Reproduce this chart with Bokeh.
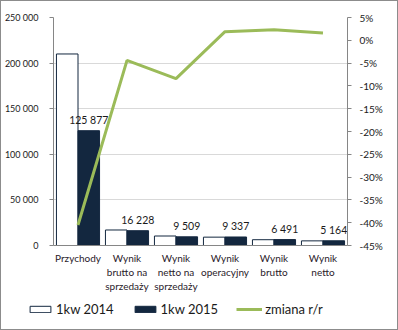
from bokeh.plotting import figure
from bokeh.layouts import column
from bokeh.models import Range1d, LinearAxis, FixedTicker, Legend, LegendItem
from bokeh.embed import file_html
from bokeh.resources import INLINE

categories = ["Przychody", "Wynik\nbrutto na\nsprzedaży", "Wynik\nnetto na\nsprzedaży",
              "Wynik\noperacyjny", "Wynik\nbrutto", "Wynik\nnetto"]
values_2014 = [210000, 17000, 10400, 9160, 6340, 5080]
values_2015 = [125877, 16228, 9509, 9337, 6491, 5164]
change_pct = [-40.5, -4.4, -8.4, 1.9, 2.3, 1.6]
series_names = ["1kw 2014", "1kw 2015", "zmiana r/r"]

FONT = "Lato"
NAVY = "#13273f"
GREEN = "#9bbb59"
AXIS = "#868686"
TXT = "#1a1a1a"

def fmt(v):
    return f"{v:,}".replace(",", " ")

n = len(categories)
centers = [i + 0.5 for i in range(n)]
x14 = [c - 0.22 for c in centers]
x15 = [c + 0.22 for c in centers]

p = figure(width=396, height=300, output_backend="svg", toolbar_location=None,
           x_range=Range1d(0, n), y_range=Range1d(0, 250000),
           min_border_left=50, min_border_right=50, min_border_top=16, min_border_bottom=56)
p.outline_line_color = None
p.background_fill_color = "white"
p.border_fill_color = "white"

p.extra_y_ranges = {"pct": Range1d(-45, 5)}

p.vbar(x=x14, top=values_2014, width=0.44, fill_color="white", line_color=NAVY, line_width=1)
p.vbar(x=x15, top=values_2015, width=0.44, fill_color=NAVY, line_color=NAVY, line_width=1)
p.line(x=centers, y=change_pct, y_range_name="pct", line_color=GREEN, line_width=3)

p.text(x=x15, y=values_2015, text=[fmt(v) for v in values_2015], text_align="center",
       text_baseline="bottom", y_offset=-5, text_font_size="10.5px", text_color=TXT,
       text_font={"value": FONT})

ly = p.yaxis[0]
lt = [0, 50000, 100000, 150000, 200000, 250000]
ly.ticker = FixedTicker(ticks=lt)
ly.major_label_overrides = {t: fmt(t) for t in lt}
ly.axis_line_color = AXIS
ly.major_tick_line_color = AXIS
ly.major_tick_in = 0
ly.major_tick_out = 4
ly.minor_tick_line_color = None
ly.major_label_text_font = FONT
ly.major_label_text_font_size = "9px"
ly.major_label_text_color = TXT
ly.major_label_standoff = 11

ry = LinearAxis(y_range_name="pct")
rt = list(range(-45, 10, 5))
ry.ticker = FixedTicker(ticks=rt)
ry.major_label_overrides = {t: f"{t}%" for t in rt}
ry.axis_line_color = AXIS
ry.major_tick_line_color = AXIS
ry.major_tick_in = 0
ry.major_tick_out = 4
ry.minor_tick_line_color = None
ry.major_label_text_font = FONT
ry.major_label_text_font_size = "10px"
ry.major_label_text_color = TXT
ry.major_label_standoff = 8
p.add_layout(ry, "right")

bx = p.xaxis[0]
bx.ticker = FixedTicker(ticks=centers)
bx.major_label_overrides = {c: lab for c, lab in zip(centers, categories)}
bx.axis_line_color = AXIS
bx.major_tick_line_color = None
bx.minor_tick_line_color = None
bx.major_label_text_font = FONT
bx.major_label_text_font_size = "10px"
bx.major_label_text_color = "#2a1a2a"
bx.major_label_standoff = 0

p.xgrid.grid_line_color = None
p.ygrid.grid_line_color = "#d9d9d9"

# legend strip (its glyph renderers sit outside the strip's visible range)
q = figure(width=396, height=28, output_backend="svg", toolbar_location=None,
           x_range=Range1d(0, 1), y_range=Range1d(0, 1),
           x_axis_location=None, y_axis_location=None,
           min_border_left=0, min_border_right=0, min_border_top=0, min_border_bottom=0)
q.frame_align = False
q.grid.visible = False
q.outline_line_color = None
q.border_fill_color = "white"
g14 = q.vbar(x=[-10], top=[-10], width=0.4, fill_color="white", line_color=NAVY, line_width=1)
g15 = q.vbar(x=[-10], top=[-10], width=0.4, fill_color=NAVY, line_color=NAVY, line_width=1)
gl = q.line(x=[-10, -11], y=[-10, -10], line_color=GREEN, line_width=3)
legend = Legend(items=[LegendItem(label=series_names[0], renderers=[g14]),
                       LegendItem(label=series_names[1], renderers=[g15]),
                       LegendItem(label=series_names[2], renderers=[gl])],
                orientation="horizontal", location=(26, 12),
                label_text_font=FONT, label_text_font_size="13px", label_text_color=TXT,
                glyph_width=26, glyph_height=8, spacing=18, label_standoff=3,
                background_fill_alpha=0, border_line_color=None, padding=0, margin=0)
q.add_layout(legend, "center")

layout = column(p, q, spacing=0, styles={"border": "1px solid #8c8c8c"})

open("out.html", "w").write(file_html(layout, INLINE))
